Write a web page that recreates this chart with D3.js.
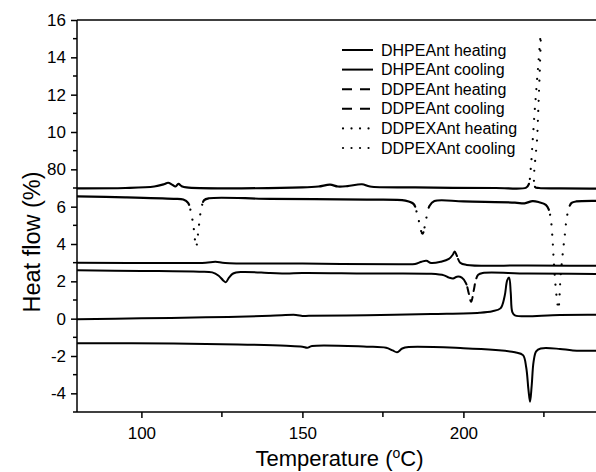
<!DOCTYPE html>
<html>
<head>
<meta charset="utf-8">
<script src="https://cdn.jsdelivr.net/npm/d3@7/dist/d3.min.js"></script>
<style>
  html, body { margin: 0; padding: 0; background: #fff; }
  svg { display: block; }
  text { font-family: "Liberation Sans", Arial, sans-serif; fill: #000; }
</style>
</head>
<body>
<svg id="chart" width="596" height="472"></svg>
<script>
// DSC traces: [temperature °C, heat flow %]
const dhpeantHeating = [
  [80, -1.32], [110, -1.33], [130, -1.38], [145, -1.45], [150, -1.5], [151.5, -1.56], [153, -1.46],
  [170, -1.5], [176, -1.56], [178, -1.7], [179.4, -1.8], [181, -1.6], [183, -1.52], [200, -1.58],
  [210, -1.68], [216, -1.8], [218.5, -1.95], [219.5, -2.6], [220.2, -3.8], [220.7, -4.45],
  [221.2, -3.6], [221.8, -2.3], [222.6, -1.75], [224, -1.6], [230, -1.62], [234, -1.7], [250, -1.72]
];
const dhpeantCooling = [
  [80, -0.03], [100, 0.02], [120, 0.07], [140, 0.15], [148, 0.2], [150, 0.14], [152, 0.15],
  [170, 0.18], [190, 0.25], [205, 0.32], [209, 0.4], [211.5, 0.55], [212.8, 1.2], [213.6, 2.05],
  [214.2, 2.2], [214.7, 1.4], [215.2, 0.35], [216, 0.18], [230, 0.2], [250, 0.22]
];
const ddpeantHeating = [
  [80, 2.59], [100, 2.56], [118, 2.52], [122, 2.48], [124, 2.3], [125.4, 2.05], [126.2, 1.95],
  [127.2, 2.2], [128.5, 2.42], [131, 2.5], [140, 2.45], [145, 2.42], [150, 2.45], [170, 2.42],
  [190, 2.4], [194, 2.32], [195.5, 2.2], [196.8, 2.15], [198, 2.25], [199.5, 2.2], [200.8, 1.9],
  [201.6, 1.4], [202.4, 0.9], [203.2, 1.5], [203.9, 2.1], [204.6, 2.35], [206, 2.45], [220, 2.42],
  [250, 2.38]
];
const ddpeantCooling = [
  [80, 3.0], [110, 2.98], [120, 3.0], [123, 3.05], [126, 2.98], [150, 2.95], [180, 2.92],
  [185, 2.93], [187, 3.05], [188.5, 3.1], [190, 2.98], [193, 3.05], [195.5, 3.2], [196.8, 3.45],
  [197.3, 3.6], [197.9, 3.4], [199, 3.0], [201, 2.88], [220, 2.85], [250, 2.82]
];
const ddpexantHeating = [
  [80, 6.55], [95, 6.5], [110, 6.42], [113, 6.38], [114.5, 6.2], [115.4, 5.7], [116.2, 4.9],
  [117.0, 3.85], [117.8, 4.9], [118.6, 5.9], [119.5, 6.35], [121, 6.45], [140, 6.42], [170, 6.38],
  [182, 6.32], [184.5, 6.15], [185.8, 5.5], [187.3, 4.55], [188.5, 5.4], [189.5, 6.05], [191, 6.3],
  [200, 6.28], [216, 6.22], [219, 6.18], [221.5, 6.3], [223.5, 6.24], [225.6, 6.1], [226.5, 5.85],
  [227.2, 5.25], [227.7, 4.2], [228.1, 3.0], [228.6, 1.8], [229.1, 0.95], [229.5, 0.5],
  [230.2, 2.3], [230.8, 3.4], [231.5, 4.5], [232.1, 5.4], [232.8, 5.95], [233.6, 6.2],
  [235, 6.28], [250, 6.28]
];
const ddpexantCooling = [
  [80, 6.98], [95, 7.0], [104, 7.08], [107, 7.2], [108.3, 7.28], [109.5, 7.18], [110.6, 7.08],
  [111.5, 7.22], [112.5, 7.1], [114, 7.03], [150, 7.03], [155, 7.08], [158.6, 7.18], [161, 7.08],
  [164, 7.1], [168.5, 7.2], [171, 7.08], [185, 7.03], [210, 7.0], [219.5, 7.02], [220.3, 7.2],
  [220.9, 8.0], [221.5, 9.5], [222.3, 11.5], [223.2, 13.5], [224.0, 15.2], [223.0, 10.0],
  [222.3, 7.05], [223.5, 7.0], [230, 6.98], [250, 6.95]
];

const seriesNames = [
  "DHPEAnt heating", "DHPEAnt cooling", "DDPEAnt heating",
  "DDPEAnt cooling", "DDPEXAnt heating", "DDPEXAnt cooling"
];
const seriesData = [
  dhpeantHeating, dhpeantCooling, ddpeantHeating,
  ddpeantCooling, ddpexantHeating, ddpexantCooling
];
const seriesStyles = ["solid", "solid", "dash", "dash", "dot", "dot"];

const xTickValues = [100, 150, 200];
const xMinorTicks = [125, 175, 225];
const yTickValues = [-4, -2, 0, 2, 4, 6, 8, 10, 12, 14, 16];
const yTickLabels = ["-4", "-2", "0", "2", "4", "6", "80", "10", "12", "14", "16"];
const yMinorTicks = [-5, -3, -1, 1, 3, 5, 7, 9, 11, 13, 15];

(function draw() {
  const svg = d3.select("#chart");
  const W = 596;
  const plotLeft = 77, plotTop = 20, plotBottom = 412;

  const x = d3.scaleLinear().domain([80, 250]).range([plotLeft, plotLeft + 170 * 3.22]);
  const y = d3.scaleLinear().domain([-5, 16]).range([plotBottom, plotTop]);

  svg.append("defs").append("clipPath").attr("id", "plotClip")
    .append("rect").attr("x", plotLeft).attr("y", plotTop)
    .attr("width", W - plotLeft).attr("height", plotBottom - plotTop);

  // Dash patterns are applied only where a trace runs steeply, the way an
  // instrument plot restarts its pattern on every short data step.
  const patterns = { dash: [7, 6], dot: [0.01, 10] };

  const line = d3.line()
    .x(d => x(d[0]))
    .y(d => y(d[1]))
    .curve(d3.curveCatmullRom.alpha(0.5));

  const plot = svg.append("g").attr("clip-path", "url(#plotClip)");

  function patternDash(pathNode, pattern) {
    const total = pathNode.getTotalLength();
    const step = 0.5;
    const runs = [];
    let prev = pathNode.getPointAtLength(0);
    let lastL = 0;
    for (let s = step; lastL < total; s += step) {
      const l = Math.min(s, total);
      const p = pathNode.getPointAtLength(l);
      const dx = Math.abs(p.x - prev.x), dy = Math.abs(p.y - prev.y);
      const steep = dy > 2.5 * dx;
      const len = l - lastL;
      if (runs.length && runs[runs.length - 1].steep === steep) runs[runs.length - 1].len += len;
      else runs.push({ steep, len });
      prev = p;
      lastL = l;
    }
    for (let i = 1; i < runs.length - 1; i++) {
      if (runs[i].len < 2) runs[i].steep = runs[i - 1].steep;
    }
    const merged = [];
    runs.forEach(r => {
      if (merged.length && merged[merged.length - 1].steep === r.steep) merged[merged.length - 1].len += r.len;
      else merged.push({ steep: r.steep, len: r.len });
    });
    const pieces = [];
    const push = (on, len) => {
      if (len <= 0) return;
      if (pieces.length && pieces[pieces.length - 1][0] === on) pieces[pieces.length - 1][1] += len;
      else pieces.push([on, len]);
    };
    merged.forEach(r => {
      if (!r.steep) { push(true, r.len); return; }
      let remaining = r.len;
      let phase = 0;
      const seq = [[false, pattern[1] / 2], [true, pattern[0]], [false, pattern[1] / 2]];
      while (remaining > 1e-6) {
        const [on, len] = seq[phase % 3];
        const use = Math.min(len, remaining);
        push(on, use);
        remaining -= use;
        phase++;
      }
    });
    const arr = [];
    if (pieces.length && !pieces[0][0]) arr.push(0);
    pieces.forEach(p => arr.push(p[1]));
    if (arr.length % 2 === 1) arr.push(total + 10);
    return arr.map(v => v.toFixed(2)).join(" ");
  }

  seriesData.forEach((data, i) => {
    const style = seriesStyles[i];
    const path = plot.append("path")
      .datum(data)
      .attr("d", line)
      .attr("fill", "none")
      .attr("stroke", "#000")
      .attr("stroke-width", style === "dot" ? 2.2 : 2)
      .attr("stroke-linejoin", "round")
      .attr("stroke-linecap", "round");
    if (style !== "solid") {
      path.attr("stroke-dasharray", patternDash(path.node(), patterns[style]));
    }
  });

  // Axes
  const xAxis = d3.axisBottom(x).tickValues(xTickValues).tickSize(6).tickSizeOuter(0).tickPadding(9);
  const gx = svg.append("g").attr("transform", `translate(0,${plotBottom})`).call(xAxis);
  gx.select(".domain").remove();
  gx.selectAll(".tick line").attr("stroke", "#000").attr("stroke-width", 1.5);
  gx.selectAll("text").attr("font-size", 17).attr("font-family", "Liberation Sans, Arial, sans-serif");
  gx.selectAll(".minor").data(xMinorTicks).enter().append("line")
    .attr("class", "minor")
    .attr("x1", d => x(d)).attr("x2", d => x(d))
    .attr("y1", 0).attr("y2", 5)
    .attr("stroke", "#000").attr("stroke-width", 1.5);

  const yAxis = d3.axisLeft(y).tickValues(yTickValues)
    .tickFormat((d, i) => yTickLabels[i]).tickSize(6).tickSizeOuter(0).tickPadding(5);
  const gy = svg.append("g").attr("transform", `translate(${plotLeft},0)`).call(yAxis);
  gy.select(".domain").remove();
  gy.selectAll(".tick line").attr("stroke", "#000").attr("stroke-width", 1.5);
  gy.selectAll("text").attr("font-size", 17).attr("font-family", "Liberation Sans, Arial, sans-serif");
  gy.selectAll(".minor").data(yMinorTicks).enter().append("line")
    .attr("class", "minor")
    .attr("y1", d => y(d)).attr("y2", d => y(d))
    .attr("x1", 0).attr("x2", -4)
    .attr("stroke", "#000").attr("stroke-width", 1.5);

  // Frame lines
  const frame = [
    [plotLeft, plotBottom, W, plotBottom],
    [plotLeft, plotTop, W, plotTop],
    [plotLeft, plotTop, plotLeft, plotBottom]
  ];
  frame.forEach(f => svg.append("line")
    .attr("x1", f[0]).attr("y1", f[1]).attr("x2", f[2]).attr("y2", f[3])
    .attr("stroke", "#000").attr("stroke-width", 1.5));

  // Axis titles
  const xt = svg.append("text")
    .attr("x", (plotLeft + W) / 2 + 3).attr("y", 466)
    .attr("text-anchor", "middle").attr("font-size", 22);
  xt.append("tspan").text("Temperature (");
  xt.append("tspan").attr("font-size", 14).attr("dy", -8).text("o");
  xt.append("tspan").attr("dy", 8).text("C)");

  svg.append("text")
    .attr("transform", "translate(40,242) rotate(-90)")
    .attr("text-anchor", "middle").attr("font-size", 23.5)
    .text("Heat flow (%)");

  // Legend
  const legend = svg.append("g");
  seriesNames.forEach((name, i) => {
    const ly = 50 + i * 19.6;
    const style = seriesStyles[i];
    const l = legend.append("line")
      .attr("x1", 342).attr("x2", 373).attr("y1", ly).attr("y2", ly)
      .attr("stroke", "#000").attr("stroke-width", style === "dot" ? 2.2 : 2);
    if (style === "dash") l.attr("stroke-dasharray", "10 8");
    if (style === "dot") l.attr("stroke-dasharray", "0.01 8.5").attr("stroke-linecap", "round")
      .attr("x1", 343).attr("x2", 371);
    legend.append("text")
      .attr("x", 381).attr("y", ly).attr("dy", "0.35em")
      .attr("font-size", 16)
      .text(name);
  });
})();
</script>
</body>
</html>
